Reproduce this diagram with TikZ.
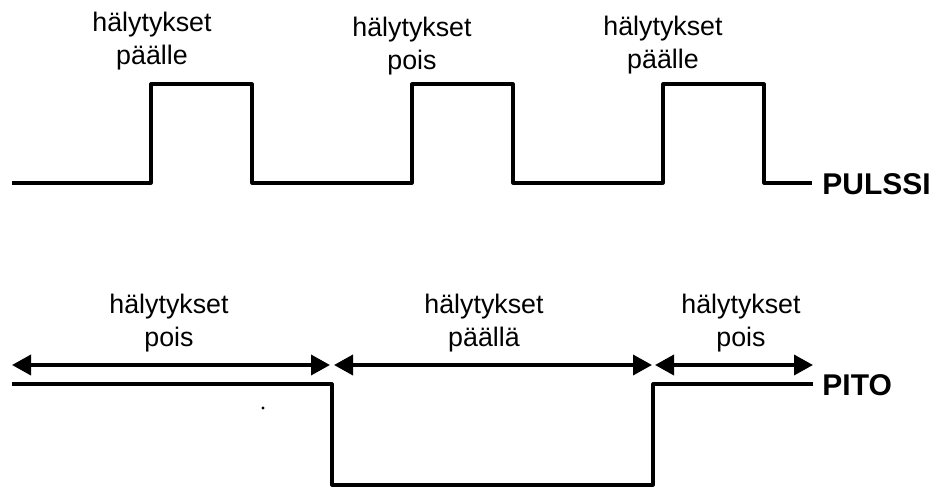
\documentclass[tikz,border=0pt]{standalone}
\usepackage{fontspec}
\setmainfont{Liberation Sans}
\usetikzlibrary{arrows.meta}
\begin{document}
\begin{tikzpicture}[x=0.5pt,y=-0.5pt,
    signal/.style={line width=1.6pt,line join=round},
    spanarrow/.style={line width=1.8pt,{Triangle[length=9.5pt,width=10pt]}-{Triangle[length=9.5pt,width=10pt]}},
    lbl/.style={anchor=north,inner sep=0pt,align=center,font=\fontsize{13.4}{16.5}\selectfont},
    sigtag/.style={anchor=west,inner sep=0pt,font=\fontsize{15}{18}\selectfont\bfseries}]
  \useasboundingbox (0,0) rectangle (938,488);

  % PULSSI
  \draw[signal] (12,183) -- (151,183) -- (151,84) -- (252,84) -- (252,183)
      -- (412,183) -- (412,84) -- (513,84) -- (513,183)
      -- (663,183) -- (663,84) -- (764,84) -- (764,183) -- (812,183);
  \node[sigtag] (pulssi) at (822,184) {PULSSI};

  \node[lbl] (on1) at (152,12) {hälytykset\\päälle};
  \node[lbl] (off1) at (412,17) {hälytykset\\pois};
  \node[lbl] (on2) at (663,16) {hälytykset\\päälle};

  % PITO
  \draw[signal] (12,384) -- (332,384) -- (332,485) -- (653,485) -- (653,384) -- (813,384);
  \node[sigtag] (pito) at (822,385) {PITO};
  \fill (263,408) circle[radius=0.8pt];

  \coordinate (a0) at (12,365);
  \coordinate (a1) at (330,365);
  \coordinate (b0) at (334,365);
  \coordinate (b1) at (652,365);
  \coordinate (c0) at (655,365);
  \coordinate (c1) at (813,365);
  \draw[spanarrow] (a0) -- (a1);
  \draw[spanarrow] (b0) -- (b1);
  \draw[spanarrow] (c0) -- (c1);

  \node[lbl] (offa) at (169,294) {hälytykset\\pois};
  \node[lbl] (onb) at (484,294) {hälytykset\\päällä};
  \node[lbl] (offc) at (741,294) {hälytykset\\pois};
\end{tikzpicture}
\end{document}
